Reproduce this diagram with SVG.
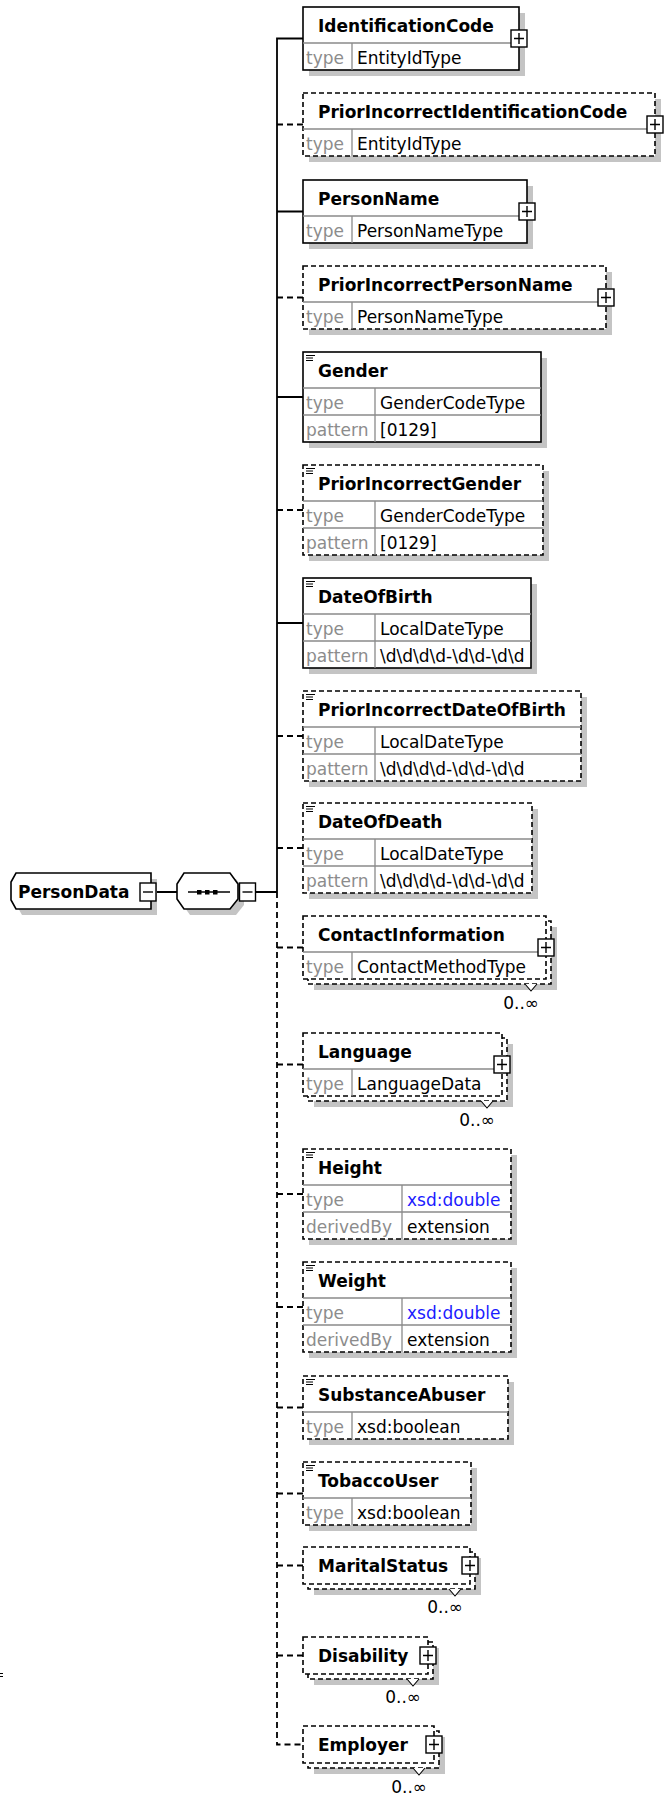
<svg xmlns="http://www.w3.org/2000/svg" xmlns:xlink="http://www.w3.org/1999/xlink" width="666" height="1796" viewBox="0 0 666 1796">
<style>
.sh{fill:#c4c4c4}
.bx{fill:#fff;stroke:#000;stroke-width:1.6}
.opt{stroke-dasharray:5 3}
.dv{stroke:#8a8a8a;stroke-width:1.3;fill:none}
.nm{font-family:"DejaVu Sans",sans-serif;font-weight:bold;font-size:17px;fill:#000}
.lb{font-family:"DejaVu Sans",sans-serif;font-size:17px;fill:#8c8c8c}
.vl{font-family:"DejaVu Sans",sans-serif;font-size:17px;fill:#000}
.bl{fill:#1c1cff}
.cn{stroke:#000;stroke-width:1.8;fill:none}
.cd{stroke-dasharray:6 4}
.nt{fill:#fff;stroke:#000;stroke-width:1.1}
</style>
<defs>
<g id="plus"><rect x="-8" y="-8.5" width="16" height="17" fill="#fff" stroke="#000" stroke-width="1.4"/><path d="M-5 0H5M0 -5.5V5.5" stroke="#000" stroke-width="1.4"/></g>
<g id="minus"><rect x="-8" y="-9" width="16" height="18" fill="#fff" stroke="#000" stroke-width="1.4"/><path d="M-5 0H5" stroke="#000" stroke-width="1.4"/></g>
<path id="ico" d="M0 0.5h9M0 3h7M0 5.5h7" stroke="#000" stroke-width="1"/>
</defs>

<g id="connectors">
<path class="cn" d="M303 38.5H277V892"/>
<path class="cn cd" d="M277 892V1744.5H303"/>
<path class="cn" d="M157 892H177M256 892H277"/>
<path class="cn" d="M277 211.5H303M277 397H303M277 623H303"/>
<path class="cn cd" d="M277 124.5H303M277 297.5H303M277 510H303M277 736H303M277 848H303M277 947.5H303M277 1064.5H303M277 1194H303M277 1307H303M277 1407.5H303M277 1493.5H303M277 1565.5H303M277 1655.5H303"/>
</g>

<g id="PersonData">
<polygon class="sh" points="22,879 157,879 157,915 22,915 17,906 17,887"/>
<polygon class="bx" points="16,873 151,873 151,909 16,909 11,900 11,882"/>
<text class="nm" x="18" y="898">PersonData</text>
<use xlink:href="#minus" x="148" y="892"/>
</g>

<g id="sequence">
<polygon class="sh" points="190,879 236,879 244,890 244,905 236,915 190,915 183,905 183,890"/>
<polygon class="bx" points="184,873 230,873 238,884 238,899 230,909 184,909 177,899 177,884"/>
<path d="M188 892H230" stroke="#000" stroke-width="1.6"/>
<rect x="197" y="890" width="4.5" height="4.5"/><rect x="205" y="890" width="4.5" height="4.5"/><rect x="213" y="890" width="4.5" height="4.5"/>
<use xlink:href="#minus" x="247.5" y="892"/>
</g>

<g id="IdentificationCode">
<rect class="sh" x="309" y="13" width="216" height="63"/>
<rect class="bx" x="303" y="7" width="216" height="63"/>
<path class="dv" d="M303 43H519M352 43V70"/>
<text class="nm" x="318" y="32">IdentificationCode</text>
<text class="lb" x="306" y="64">type</text><text class="vl" x="357" y="64">EntityIdType</text>
<use xlink:href="#plus" x="519" y="38.5"/>
</g>

<g id="PriorIncorrectIdentificationCode">
<rect class="sh" x="309" y="99" width="352" height="63"/>
<rect class="bx opt" x="303" y="93" width="352" height="63"/>
<path class="dv" d="M303 129H655M352 129V156"/>
<text class="nm" x="318" y="118">PriorIncorrectIdentificationCode</text>
<text class="lb" x="306" y="150">type</text><text class="vl" x="357" y="150">EntityIdType</text>
<use xlink:href="#plus" x="655" y="124.5"/>
</g>

<g id="PersonName">
<rect class="sh" x="309" y="186" width="224" height="63"/>
<rect class="bx" x="303" y="180" width="224" height="63"/>
<path class="dv" d="M303 216H527M352 216V243"/>
<text class="nm" x="318" y="205">PersonName</text>
<text class="lb" x="306" y="237">type</text><text class="vl" x="357" y="237">PersonNameType</text>
<use xlink:href="#plus" x="527" y="211.5"/>
</g>

<g id="PriorIncorrectPersonName">
<rect class="sh" x="309" y="272" width="303" height="63"/>
<rect class="bx opt" x="303" y="266" width="303" height="63"/>
<path class="dv" d="M303 302H606M352 302V329"/>
<text class="nm" x="318" y="291">PriorIncorrectPersonName</text>
<text class="lb" x="306" y="323">type</text><text class="vl" x="357" y="323">PersonNameType</text>
<use xlink:href="#plus" x="606" y="297.5"/>
</g>

<g id="Gender">
<rect class="sh" x="309" y="358" width="238" height="90"/>
<rect class="bx" x="303" y="352" width="238" height="90"/>
<path class="dv" d="M303 388H541M303 415H541M375 388V442"/>
<use xlink:href="#ico" x="306" y="355"/>
<text class="nm" x="318" y="377">Gender</text>
<text class="lb" x="306" y="409">type</text><text class="vl" x="380" y="409">GenderCodeType</text>
<text class="lb" x="306" y="436">pattern</text><text class="vl" x="380" y="436">[0129]</text>
</g>

<g id="PriorIncorrectGender">
<rect class="sh" x="309" y="471" width="240" height="90"/>
<rect class="bx opt" x="303" y="465" width="240" height="90"/>
<path class="dv" d="M303 501H543M303 528H543M375 501V555"/>
<use xlink:href="#ico" x="306" y="468"/>
<text class="nm" x="318" y="490">PriorIncorrectGender</text>
<text class="lb" x="306" y="522">type</text><text class="vl" x="380" y="522">GenderCodeType</text>
<text class="lb" x="306" y="549">pattern</text><text class="vl" x="380" y="549">[0129]</text>
</g>

<g id="DateOfBirth">
<rect class="sh" x="309" y="584" width="228" height="90"/>
<rect class="bx" x="303" y="578" width="228" height="90"/>
<path class="dv" d="M303 614H531M303 641H531M375 614V668"/>
<use xlink:href="#ico" x="306" y="581"/>
<text class="nm" x="318" y="603">DateOfBirth</text>
<text class="lb" x="306" y="635">type</text><text class="vl" x="380" y="635">LocalDateType</text>
<text class="lb" x="306" y="662">pattern</text><text class="vl" x="380" y="662">\d\d\d\d-\d\d-\d\d</text>
</g>

<g id="PriorIncorrectDateOfBirth">
<rect class="sh" x="309" y="697" width="278" height="90"/>
<rect class="bx opt" x="303" y="691" width="278" height="90"/>
<path class="dv" d="M303 727H581M303 754H581M375 727V781"/>
<use xlink:href="#ico" x="306" y="694"/>
<text class="nm" x="318" y="716">PriorIncorrectDateOfBirth</text>
<text class="lb" x="306" y="748">type</text><text class="vl" x="380" y="748">LocalDateType</text>
<text class="lb" x="306" y="775">pattern</text><text class="vl" x="380" y="775">\d\d\d\d-\d\d-\d\d</text>
</g>

<g id="DateOfDeath">
<rect class="sh" x="309" y="809" width="229" height="90"/>
<rect class="bx opt" x="303" y="803" width="229" height="90"/>
<path class="dv" d="M303 839H532M303 866H532M375 839V893"/>
<use xlink:href="#ico" x="306" y="806"/>
<text class="nm" x="318" y="828">DateOfDeath</text>
<text class="lb" x="306" y="860">type</text><text class="vl" x="380" y="860">LocalDateType</text>
<text class="lb" x="306" y="887">pattern</text><text class="vl" x="380" y="887">\d\d\d\d-\d\d-\d\d</text>
</g>

<g id="ContactInformation">
<rect class="sh" x="314" y="927" width="243" height="63"/>
<rect class="bx opt" x="308" y="921" width="243" height="63"/>
<rect class="bx opt" x="303" y="916" width="243" height="63"/>
<path class="dv" d="M303 952H546M352 952V979"/>
<text class="nm" x="318" y="941">ContactInformation</text>
<text class="lb" x="306" y="973">type</text><text class="vl" x="357" y="973">ContactMethodType</text>
<use xlink:href="#plus" x="546" y="947.5"/>
<polyline class="nt" points="525,984 531,991 537,984"/>
<text class="vl" x="539" y="1009" text-anchor="end">0..∞</text>
</g>

<g id="Language">
<rect class="sh" x="314" y="1044" width="199" height="63"/>
<rect class="bx opt" x="308" y="1038" width="199" height="63"/>
<rect class="bx opt" x="303" y="1033" width="199" height="63"/>
<path class="dv" d="M303 1069H502M352 1069V1096"/>
<text class="nm" x="318" y="1058">Language</text>
<text class="lb" x="306" y="1090">type</text><text class="vl" x="357" y="1090">LanguageData</text>
<use xlink:href="#plus" x="502" y="1064.5"/>
<polyline class="nt" points="481,1101 487,1108 493,1101"/>
<text class="vl" x="495" y="1126" text-anchor="end">0..∞</text>
</g>

<g id="Height">
<rect class="sh" x="309" y="1155" width="208" height="90"/>
<rect class="bx opt" x="303" y="1149" width="208" height="90"/>
<path class="dv" d="M303 1185H511M303 1212H511M402 1185V1239"/>
<use xlink:href="#ico" x="306" y="1152"/>
<text class="nm" x="318" y="1174">Height</text>
<text class="lb" x="306" y="1206">type</text><text class="vl bl" x="407" y="1206">xsd:double</text>
<text class="lb" x="306" y="1233">derivedBy</text><text class="vl" x="407" y="1233">extension</text>
</g>

<g id="Weight">
<rect class="sh" x="309" y="1268" width="208" height="90"/>
<rect class="bx opt" x="303" y="1262" width="208" height="90"/>
<path class="dv" d="M303 1298H511M303 1325H511M402 1298V1352"/>
<use xlink:href="#ico" x="306" y="1265"/>
<text class="nm" x="318" y="1287">Weight</text>
<text class="lb" x="306" y="1319">type</text><text class="vl bl" x="407" y="1319">xsd:double</text>
<text class="lb" x="306" y="1346">derivedBy</text><text class="vl" x="407" y="1346">extension</text>
</g>

<g id="SubstanceAbuser">
<rect class="sh" x="309" y="1382" width="205" height="63"/>
<rect class="bx opt" x="303" y="1376" width="205" height="63"/>
<path class="dv" d="M303 1412H508M352 1412V1439"/>
<use xlink:href="#ico" x="306" y="1379"/>
<text class="nm" x="318" y="1401">SubstanceAbuser</text>
<text class="lb" x="306" y="1433">type</text><text class="vl" x="357" y="1433">xsd:boolean</text>
</g>

<g id="TobaccoUser">
<rect class="sh" x="309" y="1468" width="168" height="63"/>
<rect class="bx opt" x="303" y="1462" width="168" height="63"/>
<path class="dv" d="M303 1498H471M352 1498V1525"/>
<use xlink:href="#ico" x="306" y="1465"/>
<text class="nm" x="318" y="1487">TobaccoUser</text>
<text class="lb" x="306" y="1519">type</text><text class="vl" x="357" y="1519">xsd:boolean</text>
</g>

<g id="MaritalStatus">
<rect class="sh" x="314" y="1558" width="167" height="37"/>
<rect class="bx opt" x="308" y="1552" width="167" height="37"/>
<rect class="bx opt" x="303" y="1547" width="167" height="37"/>
<text class="nm" x="318" y="1572">MaritalStatus</text>
<use xlink:href="#plus" x="470" y="1565.5"/>
<polyline class="nt" points="449,1589 455,1596 461,1589"/>
<text class="vl" x="463" y="1613" text-anchor="end">0..∞</text>
</g>

<g id="Disability">
<rect class="sh" x="314" y="1648" width="125" height="37"/>
<rect class="bx opt" x="308" y="1642" width="125" height="37"/>
<rect class="bx opt" x="303" y="1637" width="125" height="37"/>
<text class="nm" x="318" y="1662">Disability</text>
<use xlink:href="#plus" x="428" y="1655.5"/>
<polyline class="nt" points="407,1679 413,1686 419,1679"/>
<text class="vl" x="421" y="1703" text-anchor="end">0..∞</text>
</g>

<g id="Employer">
<rect class="sh" x="314" y="1737" width="131" height="37"/>
<rect class="bx opt" x="308" y="1731" width="131" height="37"/>
<rect class="bx opt" x="303" y="1726" width="131" height="37"/>
<text class="nm" x="318" y="1751">Employer</text>
<use xlink:href="#plus" x="434" y="1744.5"/>
<polyline class="nt" points="413,1768 419,1775 425,1768"/>
<text class="vl" x="427" y="1793" text-anchor="end">0..∞</text>
</g>

<path d="M0 1673.5h3M0 1676.5h3" stroke="#000" stroke-width="1"/>
</svg>
